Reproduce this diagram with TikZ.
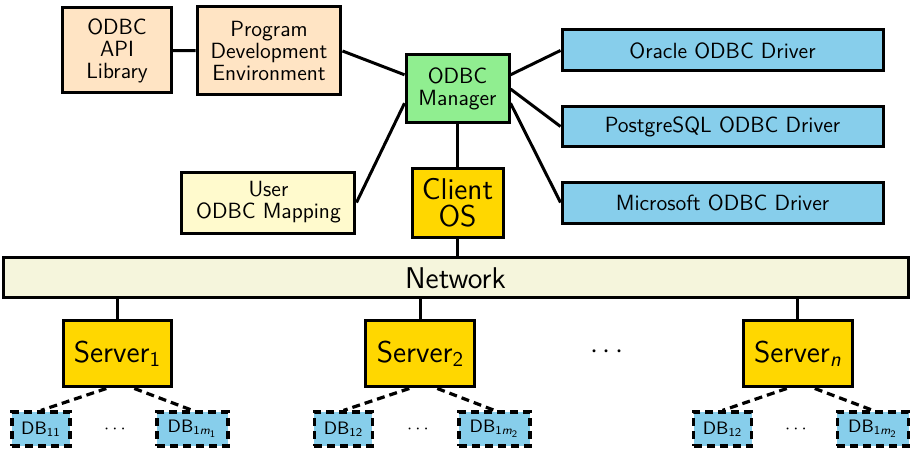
\documentclass[tikz,border=0pt]{standalone}
\usetikzlibrary{calc}
\definecolor{peach}{HTML}{FFE4C4}
\definecolor{lemon}{HTML}{FFFACD}
\definecolor{mint}{HTML}{90EE90}
\definecolor{sky}{HTML}{87CEEB}
\definecolor{golden}{HTML}{FFD700}
\definecolor{netbg}{HTML}{F5F5DC}
\newcommand{\sub}[1]{\textsubscript{#1}}
\tikzset{
  basebox/.style={draw=black, line width=1.5pt, inner sep=0pt, align=center,
                  font=\sffamily\fontsize{11}{11}\selectfont},
  appbox/.style={basebox, fill=peach},
  mapbox/.style={basebox, fill=lemon},
  mgrbox/.style={basebox, fill=mint},
  drvbox/.style={basebox, fill=sky, minimum width=5.641cm, minimum height=0.72cm},
  hostbox/.style={basebox, fill=golden, font=\sffamily\fontsize{15}{13.5}\selectfont},
  dbbox/.style={basebox, fill=sky, line width=1.6pt, dash pattern=on 4pt off 2.5pt,
                minimum height=0.597cm, font=\sffamily\small},
  link/.style={line width=1.5pt},
  dlink/.style={line width=1.6pt, dash pattern=on 4pt off 2.5pt}}

\begin{document}
\begin{tikzpicture}
  \useasboundingbox (0,0) rectangle (16.009,-7.873);
  % client side
  \node[appbox, minimum width=1.898cm, minimum height=1.494cm] (api) at (2.056,-0.887)
    {ODBC\\API\\Library};
  \node[appbox, minimum width=2.530cm, minimum height=1.546cm] (prog) at (4.727,-0.896)
    {Program\\Development\\Environment};
  \node[mgrbox, minimum width=1.810cm, minimum height=1.195cm] (mgr) at (8.040,-1.564)
    {ODBC\\Manager};
  \node[hostbox, minimum width=1.599cm, minimum height=1.213cm] (os) at (8.040,-3.559)
    {Client\\OS};
  \node[mapbox, minimum width=3.040cm, minimum height=1.072cm] (map) at (4.718,-3.559)
    {User\\ODBC Mapping};
  \node[drvbox] (ora) at (12.697,-0.887) {Oracle ODBC Driver};
  \node[drvbox] (pg) at (12.697,-2.223) {PostgreSQL ODBC Driver};
  \node[drvbox] (ms) at (12.697,-3.559) {Microsoft ODBC Driver};
  \node[basebox, fill=netbg, font=\sffamily\fontsize{15}{13.5}\selectfont,
        minimum width=15.904cm, minimum height=0.703cm] (net) at (8.005,-4.885) {Network};
  % servers
  \node[hostbox, minimum width=1.915cm, minimum height=1.177cm] (s1) at (2.065,-6.212)
    {Server\sub{1}};
  \node[hostbox, minimum width=1.915cm, minimum height=1.177cm] (s2) at (7.389,-6.212)
    {Server\sub{2}};
  \node[hostbox, minimum width=1.915cm, minimum height=1.177cm] (sn) at (14.023,-6.212)
    {Server\sub{\textit{n}}};
  \node[font=\Large] (sdots) at (10.667,-6.186) {$\cdots$};
  % databases
  \node[dbbox, minimum width=1.019cm] (d11) at (0.720,-7.539) {DB\sub{11}};
  \node[font=\small] (dd1) at (2.021,-7.539) {$\cdots$};
  \node[dbbox, minimum width=1.248cm] (d1m1) at (3.383,-7.539) {DB\sub{1\textit{m}\sub{1}}};
  \node[dbbox, minimum width=1.019cm] (d21) at (6.036,-7.539) {DB\sub{12}};
  \node[font=\small] (dd2) at (7.345,-7.539) {$\cdots$};
  \node[dbbox, minimum width=1.248cm] (d2m2) at (8.690,-7.539) {DB\sub{1\textit{m}\sub{2}}};
  \node[dbbox, minimum width=1.019cm] (dn1) at (12.697,-7.539) {DB\sub{12}};
  \node[font=\small] (ddn) at (13.988,-7.539) {$\cdots$};
  \node[dbbox, minimum width=1.248cm] (dnm) at (15.341,-7.539) {DB\sub{1\textit{m}\sub{2}}};

  \draw[link] (api) -- (prog);
  \draw[link] (prog.east) -- (mgr.165);
  \draw[link] (map.east) -- (mgr.195);
  \draw[link] (mgr.15) -- (ora.west);
  \draw[link] (mgr.east) -- (pg.west);
  \draw[link] (mgr.345) -- (ms.west);
  \draw[link] (mgr) -- (os);
  \draw[link] (os.south) -- (os.south |- net.north);
  \foreach \s in {s1,s2,sn}
    \draw[link] (net.south -| \s.north) -- (\s.north);
  \foreach \s/\a/\b in {s1/d11/d1m1, s2/d21/d2m2, sn/dn1/dnm} {
    \draw[dlink] ($(\s.south west)!0.4!(\s.south east)$) -- (\a.north);
    \draw[dlink] ($(\s.south west)!0.65!(\s.south east)$) -- (\b.north);
  }
\end{tikzpicture}
\end{document}
